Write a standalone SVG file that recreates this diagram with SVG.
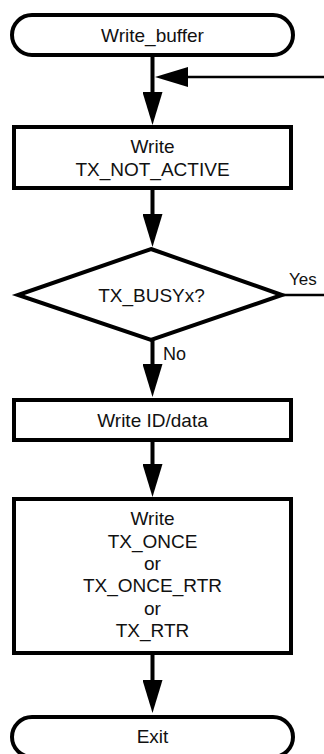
<svg xmlns="http://www.w3.org/2000/svg" width="324" height="754" viewBox="0 0 324 754">
<style>
.shape{fill:#fff;stroke:#000;stroke-width:4}
.t{font-family:"Liberation Sans",Arial,sans-serif;font-size:19px;fill:#111;text-anchor:middle}
.tl{font-family:"Liberation Sans",Arial,sans-serif;font-size:18px;fill:#111}
.main{stroke:#000;stroke-width:4;fill:none}
.thin{stroke:#000;stroke-width:2.5;fill:none}
</style>
<defs>
<marker id="ah" markerUnits="userSpaceOnUse" markerWidth="34" markerHeight="20" refX="13" refY="10" orient="auto" viewBox="0 0 34 20">
<path d="M0,0 L33,10 L0,20 Z" fill="#000"/>
</marker>
</defs>
<rect width="324" height="754" fill="#fff"/>
<g id="connectors">
<line class="main" x1="152.5" y1="55" x2="152.5" y2="105" marker-end="url(#ah)"/>
<line class="thin" x1="324" y1="77" x2="175" y2="77" marker-end="url(#ah)"/>
<line class="main" x1="152.5" y1="188" x2="152.5" y2="227" marker-end="url(#ah)"/>
<line class="thin" x1="282" y1="295" x2="324" y2="295"/>
<line class="main" x1="152.5" y1="340" x2="152.5" y2="377" marker-end="url(#ah)"/>
<line class="main" x1="152.5" y1="440" x2="152.5" y2="477" marker-end="url(#ah)"/>
<line class="main" x1="152.5" y1="653" x2="152.5" y2="693" marker-end="url(#ah)"/>
<text class="tl" x="289" y="285" style="font-size:17px">Yes</text>
<text class="tl" x="163" y="360">No</text>
</g>
<g id="start">
<rect class="shape" x="12" y="15" width="281" height="40" rx="20"/>
<text class="t" x="152.5" y="42">Write_buffer</text>
</g>
<g id="write_not_active">
<rect class="shape" x="14" y="127" width="277" height="61"/>
<text class="t" x="152.5" y="153">Write</text>
<text class="t" x="152.5" y="176">TX_NOT_ACTIVE</text>
</g>
<g id="busy">
<polygon class="shape" points="151,249 282,295 151,340 18,295"/>
<text class="t" x="151.5" y="302">TX_BUSYx?</text>
</g>
<g id="write_id">
<rect class="shape" x="14" y="400" width="277" height="40"/>
<text class="t" x="152.5" y="427">Write ID/data</text>
</g>
<g id="write_tx">
<rect class="shape" x="14" y="499" width="277" height="154"/>
<text class="t" x="152.5" y="525">Write</text>
<text class="t" x="152.5" y="548">TX_ONCE</text>
<text class="t" x="152.5" y="570">or</text>
<text class="t" x="152.5" y="592">TX_ONCE_RTR</text>
<text class="t" x="152.5" y="615">or</text>
<text class="t" x="152.5" y="637">TX_RTR</text>
</g>
<g id="exit">
<rect class="shape" x="12" y="717" width="281" height="40" rx="20"/>
<text class="t" x="152.5" y="743">Exit</text>
</g>
</svg>
